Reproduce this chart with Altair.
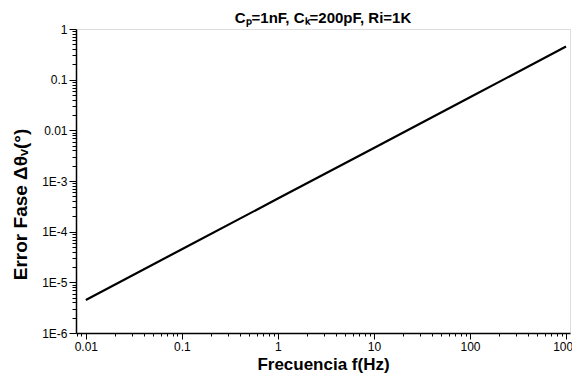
import math
import altair as alt
import pandas as pd

# Data (straight line on log-log axes)
freq_hz = [0.01, 0.1, 1, 10, 100, 1000]
error_fase = [4.5e-6, 4.5e-5, 4.5e-4, 4.5e-3, 0.045, 0.45]

x_major = [0.01, 0.1, 1, 10, 100, 1000]
x_major_labels = ["0.01", "0.1", "1", "10", "100", "1000"]
y_major = [1e-6, 1e-5, 1e-4, 1e-3, 0.01, 0.1, 1]
y_major_labels = ["1E-6", "1E-5", "1E-4", "1E-3", "0.01", "0.1", "1"]

df = pd.DataFrame({"f": freq_hz, "err": error_fase})

# minor tick positions (2..9 in every decade)
x_minor = [m * 10.0 ** k for k in range(-3, 4) for m in range(2, 10)]
x_minor = [v for v in x_minor if 0.0079 <= v <= 1100]
y_minor = [m * 10.0 ** k for k in range(-6, 0) for m in range(2, 10)]

K = "round(log(datum.value)/LN10)"
x_label_expr = " : ".join(
    f"{K}=={round(math.log10(v))} ? '{t}'" for v, t in zip(x_major, x_major_labels)
) + " : ''"
y_label_expr = " : ".join(
    f"{K}=={round(math.log10(v))} ? '{t}'" for v, t in zip(y_major, y_major_labels)
) + " : ''"

font = "Liberation Sans"
x_scale = alt.Scale(type="log", domain=[0.0079, 1100], nice=False)
y_scale = alt.Scale(type="log", domain=[1e-6, 1], nice=False)

x_axis = alt.Axis(
    values=x_major,
    labelExpr=x_label_expr,
    orient="bottom",
    tickSize=6,
    tickColor="black",
    grid=False,
    domainColor="black",
    domainWidth=1.5,
    labelFont=font,
    labelFontSize=12,
    labelColor="black",
    labelFlush=False,
    labelOverlap=False,
    title="Frecuencia f(Hz)",
    titleFont=font,
    titleFontSize=17,
    titleFontWeight="bold",
    titleColor="black",
)
x_axis_minor = alt.Axis(
    values=x_minor, orient="bottom", tickSize=3, labels=False, title=None, domain=False,
    grid=False, tickColor="black",
)

y_axis = alt.Axis(
    values=y_major,
    labelExpr=y_label_expr,
    orient="left",
    tickSize=7,
    tickColor="black",
    grid=False,
    domainColor="black",
    domainWidth=1.5,
    labelFont=font,
    labelFontSize=12,
    labelColor="black",
    labelFlush=False,
    labelOverlap=False,
    title="Error Fase Δθᵥ(°)",
    titleFont=font,
    titleFontSize=19,
    titleFontWeight="bold",
    titleColor="black",
    titleX=-56,
    titleY=175,
    titleBaseline="middle",
)
y_axis_minor = alt.Axis(
    values=y_minor, orient="left", tickSize=4, labels=False, title=None, domain=False,
    grid=False, tickColor="black",
)

line = (
    alt.Chart(df)
    .mark_line(color="black", strokeWidth=2.2)
    .encode(
        x=alt.X("f:Q", scale=x_scale, axis=x_axis),
        y=alt.Y("err:Q", scale=y_scale, axis=y_axis),
    )
)
minor = (
    alt.Chart(df)
    .mark_line(opacity=0)
    .encode(
        x=alt.X("f:Q", scale=x_scale, axis=x_axis_minor),
        y=alt.Y("err:Q", scale=y_scale, axis=y_axis_minor),
    )
)

chart = (
    alt.layer(minor, line)
    .resolve_axis(x="independent", y="independent")
    .properties(
        width=494,
        height=304,
        title=alt.TitleParams(
            "Cₚ=1nF, Cₖ=200pF, Ri=1K",
            font=font,
            fontSize=15,
            fontWeight="bold",
            color="black",
            anchor="middle",
            frame="group",
            offset=10,
            dy=13,
        ),
        padding={"left": 68, "top": 21, "right": 2, "bottom": 49},
        autosize="none",
    )
    .configure_view(stroke=None)
    .configure(background="white")
)

chart.save("out.html", embed_options={"renderer": "svg", "actions": False})
